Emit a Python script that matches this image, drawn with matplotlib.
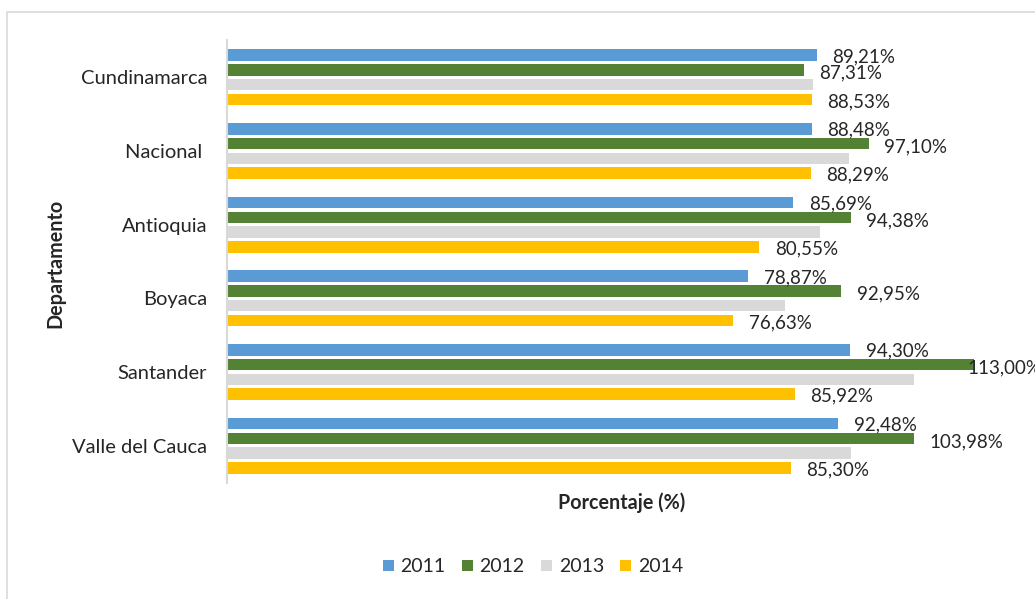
import matplotlib.pyplot as plt
import numpy as np
from matplotlib.patches import Rectangle, Patch

# datos
departamentos = ['Cundinamarca', 'Nacional ', 'Antioquia', 'Boyaca', 'Santander', 'Valle del Cauca']
anios = ['2011', '2012', '2013', '2014']
v2011 = [89.21, 88.48, 85.69, 78.87, 94.30, 92.48]
v2012 = [87.31, 97.10, 94.38, 92.95, 113.00, 103.98]
v2013 = [88.65, 94.05, 89.75, 84.45, 103.90, 94.40]   # sin etiqueta en el original
v2014 = [88.53, 88.29, 80.55, 76.63, 85.92, 85.30]

colores = ['#5B9BD5', '#548235', '#D9D9D9', '#FFC000']
con_etiqueta = [True, True, False, True]
bajada = [-0.9, -2.4, 0, -1.5]   # desplazamiento vertical de las etiquetas (pt)
texto = '#262626'

plt.rcParams['font.family'] = ['Lato', 'DejaVu Sans']

fig = plt.figure(figsize=(10.35, 5.99), dpi=100)
# marco del grafico (solo se ve arriba y a la izquierda)
fig.patches.append(Rectangle((7 / 1035, -0.1), 1.2, 1.1 - 11.7 / 599, transform=fig.transFigure,
                             fill=False, edgecolor='#D9D9D9', linewidth=1.2))

ax = fig.add_axes([226.5 / 1035, 1 - 482.6 / 599, 793.9 / 1035, 442.2 / 599])

y = np.arange(len(departamentos))
paso = 0.2
alto = 0.156
series = [v2011, v2012, v2013, v2014]

for k, vals in enumerate(series):
    pos = y + (k - 1.5) * paso
    ax.barh(pos, vals, height=alto, color=colores[k], label=anios[k])
    if not con_etiqueta[k]:
        continue
    for yy, v in zip(pos, vals):
        dx = 11 if v < 110 else -4.5
        ax.annotate(f'{v:.2f}%'.replace('.', ','), (v, yy), xytext=(dx, bajada[k]),
                    textcoords='offset points', ha='left', va='center',
                    fontsize=13.5, color=texto, annotation_clip=False)

ax.set_xlim(0, 120)
ax.set_ylim(len(departamentos) - 0.5, -0.5)
ax.set_yticks(y)
ax.set_yticklabels(departamentos, fontsize=14.5, color=texto)
ax.tick_params(axis='y', length=0, pad=14)
ax.set_xticks([])
for s in ['top', 'right', 'bottom']:
    ax.spines[s].set_visible(False)
ax.spines['left'].set_color('#D9D9D9')
ax.spines['left'].set_linewidth(1.5)

fig.text(622 / 1035, 1 - 503 / 599, 'Porcentaje (%)', ha='center', va='center',
         fontsize=14.2, fontweight='bold', color=texto)
fig.text(55 / 1035, 1 - 263 / 599, 'Departamento', ha='center', va='center', rotation=90,
         fontsize=14.2, fontweight='bold', color=texto)

handles = [Patch(facecolor=c, label=a) for c, a in zip(colores, anios)]
fig.legend(handles=handles, loc='center', bbox_to_anchor=(533 / 1035, 1 - 567 / 599), ncol=4,
           frameon=False, fontsize=14, handlelength=0.55, handleheight=0.55, handletextpad=0.35,
           columnspacing=0.85, labelcolor=texto)

fig.savefig('out.png', dpi=100)
